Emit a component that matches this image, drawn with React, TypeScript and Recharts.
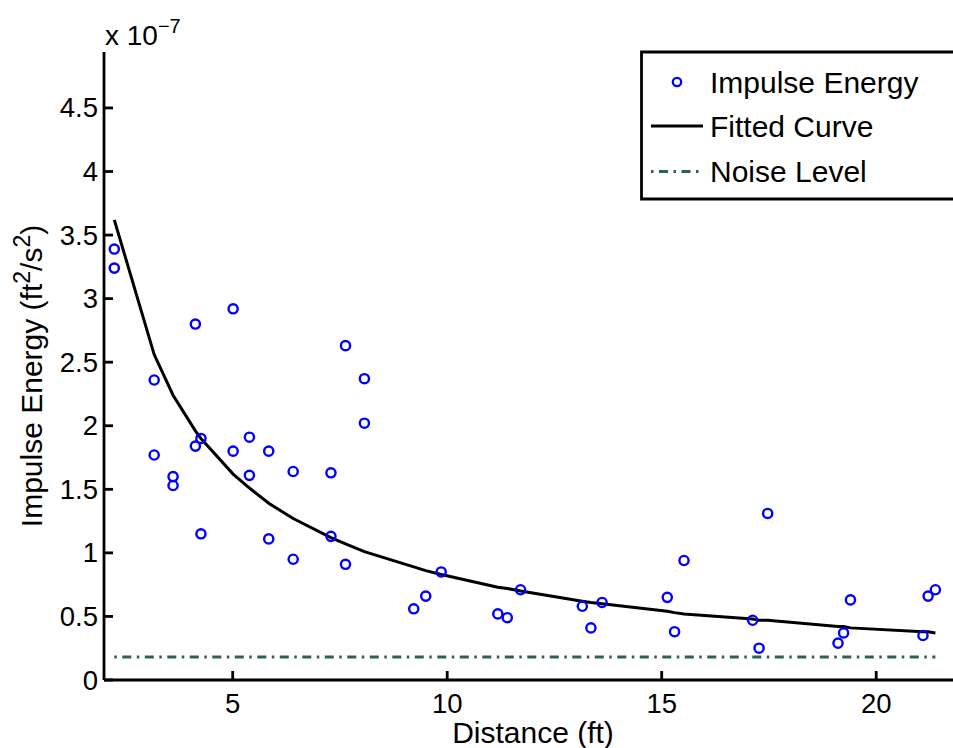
import React from 'react';
import { ComposedChart, Scatter, Line, XAxis, YAxis, Legend } from 'recharts';

// Measured impulse energy (units of 1e-7 ft^2/s^2) vs distance (ft)
const distances = [
  2.24, 2.24, 3.17, 3.17, 3.61, 3.61, 4.13, 4.13, 4.26, 4.26,
  5.01, 5.01, 5.39, 5.39, 5.84, 5.84, 6.41, 6.41, 7.29, 7.29,
  7.63, 7.63, 8.07, 8.07, 9.22, 9.5, 9.86, 11.18, 11.4, 11.71,
  13.15, 13.35, 13.61, 15.13, 15.3, 15.52, 17.12, 17.27, 17.47,
  19.11, 19.24, 19.4, 21.09, 21.21, 21.38,
];
const energies = [
  3.39, 3.24, 2.36, 1.77, 1.6, 1.53, 2.8, 1.84, 1.9, 1.15,
  2.92, 1.8, 1.91, 1.61, 1.8, 1.11, 1.64, 0.95, 1.63, 1.13,
  2.63, 0.91, 2.37, 2.02, 0.56, 0.66, 0.85, 0.52, 0.49, 0.71,
  0.58, 0.41, 0.61, 0.65, 0.38, 0.94, 0.47, 0.25, 1.31,
  0.29, 0.37, 0.63, 0.35, 0.66, 0.71,
];

// Fitted curve read at the measured distances
const fitDistances = [
  2.24, 3.17, 3.61, 4.13, 4.26, 5.01, 5.39, 5.84, 6.41, 7.29, 7.63, 8.07,
  9.22, 9.5, 9.86, 11.18, 11.4, 11.71, 13.15, 13.35, 13.61, 15.13, 15.3,
  15.52, 17.12, 17.27, 17.47, 19.11, 19.24, 19.4, 21.09, 21.21, 21.38,
];
const fitEnergies = [
  3.62, 2.56, 2.24, 1.96, 1.9, 1.62, 1.51, 1.39, 1.27, 1.12, 1.07, 1.01,
  0.89, 0.86, 0.83, 0.73, 0.72, 0.7, 0.62, 0.61, 0.6, 0.54, 0.53,
  0.52, 0.48, 0.47, 0.47, 0.42, 0.42, 0.41, 0.38, 0.38, 0.37,
];

// Noise level
const noiseDistances = [2.24, 21.38];
const noiseLevels = [0.18, 0.18];

const xTicks = [5, 10, 15, 20];
const yTicks = [0, 0.5, 1, 1.5, 2, 2.5, 3, 3.5, 4, 4.5];
const xDomain = [2, 22];
const yDomain = [0, 4.94];

const seriesNames = ['Impulse Energy', 'Fitted Curve', 'Noise Level'];
const xLabel = 'Distance (ft)';

const scatterData = distances.map((x, i) => ({ x, y: energies[i] }));
const fitData = fitDistances.map((x, i) => ({ x, y: fitEnergies[i] }));
const noiseData = noiseDistances.map((x, i) => ({ x, y: noiseLevels[i] }));

const FONT = '"Liberation Sans", Arial, Helvetica, sans-serif';
const BLUE = '#0000ff';
const GREEN = '#2d6447';
const NOISE_DASH = '2.5 5.5 9 5.5';
const AXIS_W = 2.8;

const BottomTick = (props: any) => {
  const { x, y, payload } = props;
  return (
    <g>
      <line x1={x} y1={y} x2={x} y2={y - 9} stroke="#000" strokeWidth={AXIS_W} />
      <text x={x} y={y + 33} textAnchor="middle" fontSize={27.5} fontFamily={FONT} fill="#000">
        {String(payload.value)}
      </text>
    </g>
  );
};

const TopTick = (props: any) => {
  const { x, y } = props;
  return <line x1={x} y1={y} x2={x} y2={y + 9} stroke="#000" strokeWidth={AXIS_W} />;
};

const LeftTick = (props: any) => {
  const { x, y, payload } = props;
  return (
    <g>
      <line x1={x} y1={y} x2={x + 9} y2={y} stroke="#000" strokeWidth={AXIS_W} />
      <text x={x - 6} y={y + 9.5} textAnchor="end" fontSize={27.5} fontFamily={FONT} fill="#000">
        {String(payload.value)}
      </text>
    </g>
  );
};

const RightTick = (props: any) => {
  const { x, y } = props;
  return <line x1={x} y1={y} x2={x - 9} y2={y} stroke="#000" strokeWidth={AXIS_W} />;
};

const YTitle = () => (
  <g>
    <text
      transform="translate(42, 376) rotate(-90)"
      textAnchor="middle"
      fontSize={30}
      fontFamily={FONT}
      fill="#000"
    >
      Impulse Energy (ft
      <tspan dy={-12} fontSize={23}>2</tspan>
      <tspan dy={12}>/s</tspan>
      <tspan dy={-12} fontSize={23}>2</tspan>
      <tspan dy={12}>)</tspan>
    </text>
    <text x={105} y={45} fontSize={28} fontFamily={FONT} fill="#000">
      x 10
      <tspan dy={-12} fontSize={20}>−7</tspan>
    </text>
  </g>
);

const XTitle = () => (
  <text x={533} y={743} textAnchor="middle" fontSize={30} fontFamily={FONT} fill="#000">
    {xLabel}
  </text>
);

const LegendBox = () => (
  <svg width={330} height={152} style={{ display: 'block' }}>
    <rect x={0} y={0} width={330} height={152} fill="#fff" />
    <path d="M 330 2 L 1.5 2 L 1.5 149 L 330 149" fill="none" stroke="#000" strokeWidth={AXIS_W} />
    <circle cx={37} cy={32} r={4.2} fill="none" stroke={BLUE} strokeWidth={2.3} />
    <text x={70} y={43} fontSize={30} fontFamily={FONT} fill="#000">{seriesNames[0]}</text>
    <line x1={11} y1={76} x2={63} y2={76} stroke="#000" strokeWidth={3} />
    <text x={70} y={87} fontSize={30} fontFamily={FONT} fill="#000">{seriesNames[1]}</text>
    <line x1={11} y1={121.5} x2={63} y2={121.5} stroke={GREEN} strokeWidth={3} strokeDasharray={NOISE_DASH} />
    <text x={70} y={132} fontSize={30} fontFamily={FONT} fill="#000">{seriesNames[2]}</text>
  </svg>
);

const Circle = (props: any) => {
  const { cx, cy } = props;
  return <circle cx={cx} cy={cy} r={4.6} fill="none" stroke={BLUE} strokeWidth={2.4} />;
};

export default function App() {
  return (
    <div
      style={{
        position: 'absolute',
        left: 0,
        top: 0,
        width: 953,
        height: 748,
        overflow: 'hidden',
        background: '#fff',
      }}
    >
      <ComposedChart
        width={965}
        height={748}
        margin={{ top: 52, right: 3, bottom: 0, left: 0 }}
        style={{ fontFamily: FONT }}
      >
        <XAxis
          xAxisId={0}
          type="number"
          dataKey="x"
          domain={xDomain}
          allowDataOverflow
          ticks={xTicks}
          interval={0}
          height={68}
          tickSize={0}
          tickMargin={0}
          tick={<BottomTick />}
          axisLine={{ stroke: '#000', strokeWidth: AXIS_W }}
          label={{ content: () => <XTitle /> }}
        />
        <XAxis
          xAxisId="top"
          orientation="top"
          type="number"
          dataKey="x"
          domain={xDomain}
          allowDataOverflow
          ticks={xTicks}
          interval={0}
          height={0}
          tickSize={0}
          tickMargin={0}
          tick={<TopTick />}
          axisLine={{ stroke: '#000', strokeWidth: AXIS_W }}
        />
        <YAxis
          yAxisId={0}
          type="number"
          dataKey="y"
          domain={yDomain}
          allowDataOverflow
          ticks={yTicks}
          interval={0}
          width={104}
          tickSize={0}
          tickMargin={0}
          tick={<LeftTick />}
          axisLine={{ stroke: '#000', strokeWidth: AXIS_W }}
          label={{ content: () => <YTitle /> }}
        />
        <YAxis
          yAxisId="right"
          orientation="right"
          type="number"
          dataKey="y"
          domain={yDomain}
          allowDataOverflow
          ticks={yTicks}
          interval={0}
          width={0}
          tickSize={0}
          tickMargin={0}
          tick={<RightTick />}
          axisLine={{ stroke: '#000', strokeWidth: AXIS_W }}
        />
        <Line
          data={noiseData}
          dataKey="y"
          type="linear"
          stroke={GREEN}
          strokeWidth={3}
          strokeDasharray={NOISE_DASH}
          dot={false}
          activeDot={false}
          isAnimationActive={false}
          name={seriesNames[2]}
        />
        <Line
          data={fitData}
          dataKey="y"
          type="linear"
          stroke="#000"
          strokeWidth={3}
          dot={false}
          activeDot={false}
          isAnimationActive={false}
          name={seriesNames[1]}
        />
        <Scatter
          data={scatterData}
          dataKey="y"
          shape={<Circle />}
          isAnimationActive={false}
          name={seriesNames[0]}
        />
        <Legend
          layout="vertical"
          align="center"
          verticalAlign="middle"
          wrapperStyle={{ left: 640, top: 50, width: 330, height: 152 }}
          content={() => <LegendBox />}
        />
      </ComposedChart>
    </div>
  );
}
